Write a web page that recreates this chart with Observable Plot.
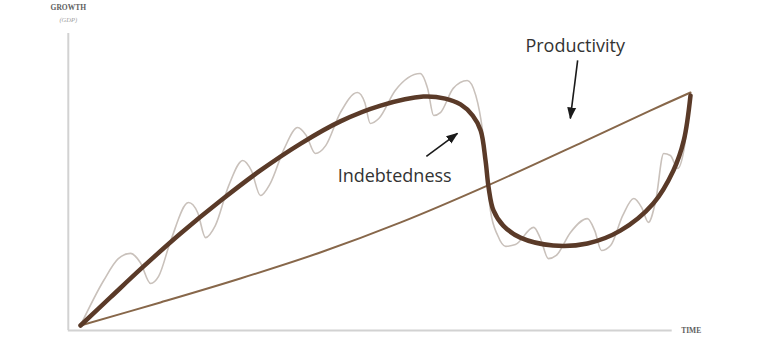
<!DOCTYPE html>
<html>
<head>
<meta charset="utf-8">
<script src="https://cdn.jsdelivr.net/npm/d3@7"></script>
<script src="https://cdn.jsdelivr.net/npm/@observablehq/plot@0.6"></script>
<style>
  body { margin: 0; background: #fff; }
  #chart svg { display: block; }
</style>
</head>
<body>
<div id="chart"></div>
<script>
// Indebtedness: long-run debt cycle (thick curve), time 0–100, growth 0–100
const debtTime   = [0, 4.9, 9.8, 16.4, 23.0, 29.5, 36.1, 42.6, 49.2, 56.2, 59.8, 62.3, 64.3, 65.6, 66.4, 66.9, 67.7, 69.3, 72.1, 77.5, 83.1, 88.5, 93.9, 97.2, 98.9, 100];
const debtGrowth = [0, 9.6, 19.2, 31.5, 42.8, 53.1, 62.3, 69.9, 75.3, 78.4, 77.7, 75.7, 71.9, 66.8, 56.5, 47.3, 39.4, 34.2, 30.1, 27.4, 28.1, 32.5, 41.8, 53.1, 63.4, 78.8];

// Short-term debt cycles riding on the long cycle (thin grey wave)
const cycleTime   = [0, 3.8, 6.2, 8.2, 9.8, 11.5, 12.8, 14.8, 17.7, 19.2, 20.5, 22.1, 24.3, 26.6, 28.0, 29.5, 31.1, 33.4, 35.6, 37.0, 38.5, 40.2, 42.6, 45.4, 46.6, 47.5, 48.9, 51.6, 55.7, 56.9, 57.9, 59.0, 61.1, 63.4, 64.8, 65.9, 66.6, 67.2, 68.4, 69.7, 71.3, 74.3, 75.4, 76.7, 78.0, 80.3, 83.1, 84.3, 85.4, 86.9, 88.9, 90.7, 92.0, 93.1, 94.3, 95.6, 96.7, 97.9, 98.9, 100];
const cycleGrowth = [0, 15.4, 22.9, 24.7, 21.6, 14.4, 16.8, 29.1, 42.1, 38.7, 30.1, 34.2, 47.9, 56.5, 53.1, 44.5, 48.6, 60.6, 67.8, 65.1, 58.9, 61.6, 72.9, 79.8, 76.4, 69.2, 70.9, 80.5, 86.3, 81.2, 71.9, 72.9, 81.2, 83.9, 78.8, 66.8, 53.1, 39.4, 30.8, 27.1, 27.7, 33.6, 29.8, 22.9, 24.0, 31.8, 36.6, 32.5, 25.7, 27.4, 37.7, 43.5, 40.4, 35.3, 42.8, 58.9, 58.2, 53.8, 59.9, 78.8];

// Productivity growth trend
const prodTime   = [0, 13.1, 26.2, 39.3, 52.5, 66.7, 82.5, 93.4, 100];
const prodGrowth = [0, 7.9, 16.1, 25.0, 35.3, 47.9, 63.0, 73.6, 79.8];

// Axis extents (data units)
const axisTime   = [-2, 97];
const axisGrowth = [-1.7, 100];

// Callout labels and their arrows
const calloutText   = ["Productivity", "Indebtedness"];
const calloutTime   = [81.1, 51.5];
const calloutGrowth = [95.5, 51.0];
const arrowTime1   = [81.5, 56.7];
const arrowGrowth1 = [90.8, 57.9];
const arrowTime2   = [80.3, 61.8];
const arrowGrowth2 = [70.9, 65.8];

const debt = debtTime.map((t, i) => ({t, g: debtGrowth[i]}));
const cycles = cycleTime.map((t, i) => ({t, g: cycleGrowth[i]}));
const prod = prodTime.map((t, i) => ({t, g: prodGrowth[i]}));
const callouts = calloutText.map((text, i) => ({text, t: calloutTime[i], g: calloutGrowth[i]}));
const arrows = arrowTime1.map((t1, i) => ({t1, g1: arrowGrowth1[i], t2: arrowTime2[i], g2: arrowGrowth2[i]}));

const axisFont = {fontFamily: "Liberation Serif", letterSpacing: 1.5};

const chart = Plot.plot({
  width: 783,
  height: 355,
  marginLeft: 80,
  marginRight: 93,
  marginTop: 33,
  marginBottom: 30,
  x: {domain: [0, 100], axis: null},
  y: {domain: [0, 100], axis: null},
  marks: [
    Plot.ruleX([axisTime[0]], {y1: axisGrowth[0], y2: axisGrowth[1], stroke: "#d2d2d2", strokeWidth: 2}),
    Plot.ruleY([axisGrowth[0]], {x1: axisTime[0], x2: axisTime[1], stroke: "#d2d2d2", strokeWidth: 2}),
    Plot.line(cycles, {x: "t", y: "g", curve: "monotone-x", stroke: "#c9c1bb", strokeWidth: 1.6}),
    Plot.line(prod, {x: "t", y: "g", curve: "catmull-rom", stroke: "#87674a", strokeWidth: 2}),
    Plot.line(debt, {x: "t", y: "g", curve: "catmull-rom", stroke: "#5a3a28", strokeWidth: 4.5, strokeLinecap: "round"}),
    Plot.link(arrows, {x1: "t1", y1: "g1", x2: "t2", y2: "g2", stroke: "#1a1a1a", strokeWidth: 1.6}),
    Plot.text(callouts, {x: "t", y: "g", text: "text", fontSize: 18, fontFamily: "Open Sans", fill: "#333", textAnchor: "middle"}),
    Plot.text(["GROWTH"], {x: axisTime[0], y: 108.8, text: d => d, fontSize: 7.5, fontWeight: "bold", fill: "#5e5e5e", textAnchor: "middle", ...axisFont}),
    Plot.text(["(GDP)"], {x: axisTime[0], y: 104.8, text: d => d, fontSize: 6.5, fontStyle: "italic", fill: "#a0a0a0", textAnchor: "middle", ...axisFont, letterSpacing: 2}),
    Plot.text(["TIME"], {x: axisTime[1], y: axisGrowth[0], dx: 9, text: d => d, textAnchor: "start", fontSize: 7.5, fontWeight: "bold", fill: "#5e5e5e", ...axisFont})
  ]
});

// Filled arrowheads for the callout arrows
const svg = d3.select(chart);
svg.append("defs").append("marker")
  .attr("id", "callout-head")
  .attr("viewBox", "-11 -5 12 10")
  .attr("refX", 0).attr("refY", 0)
  .attr("markerUnits", "userSpaceOnUse")
  .attr("markerWidth", 12).attr("markerHeight", 10)
  .attr("orient", "auto")
  .append("path")
  .attr("d", "M1,0L-11,-4.5L-11,4.5Z")
  .attr("fill", "#1a1a1a");
svg.selectAll('g[aria-label="link"] path').attr("marker-end", "url(#callout-head)");

document.getElementById("chart").append(chart);
</script>
</body>
</html>
